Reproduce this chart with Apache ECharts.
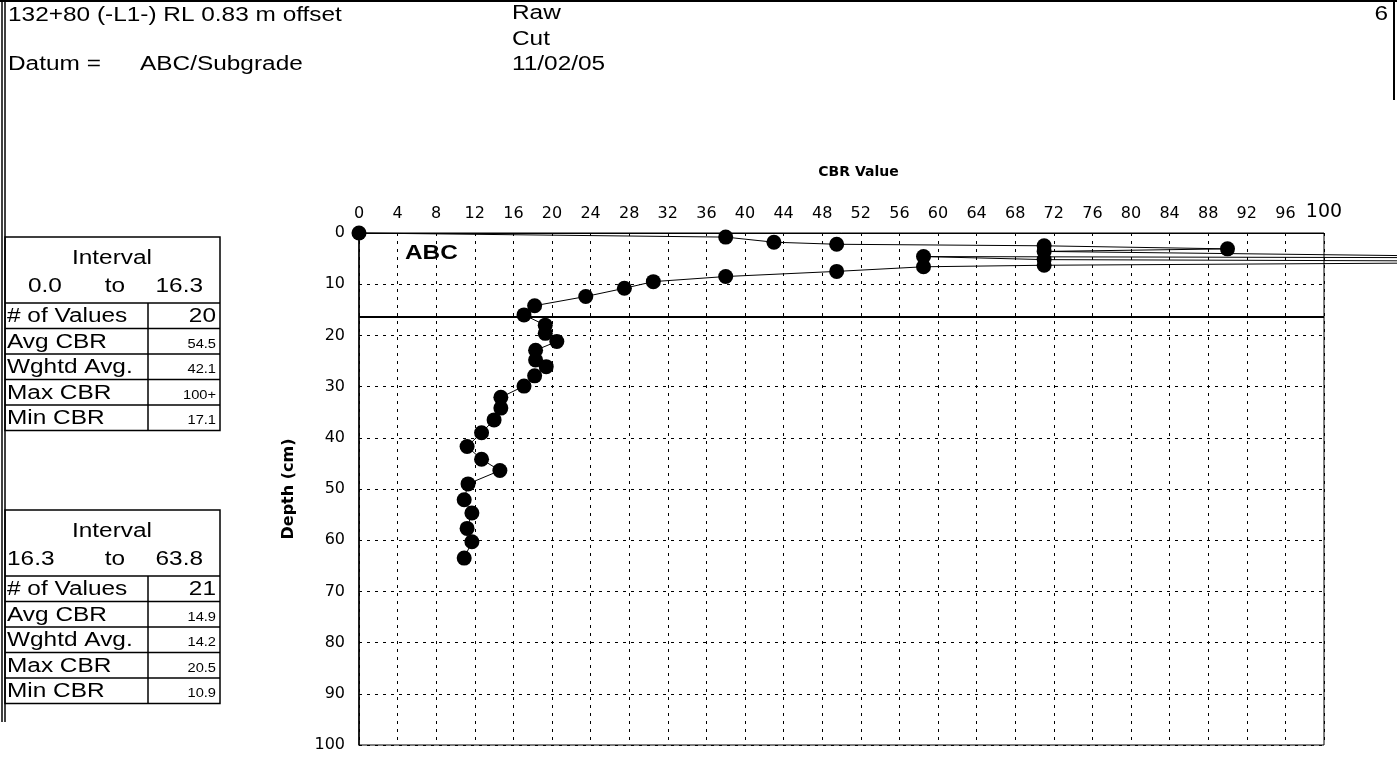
<!DOCTYPE html>
<html>
<head>
<meta charset="utf-8">
<script src="https://cdn.jsdelivr.net/npm/echarts@6/dist/echarts.min.js"></script>
<style>
  html, body { margin: 0; padding: 0; background: #fff; }
  #chart { width: 1397px; height: 767px; }
</style>
</head>
<body>
<div id="chart"></div>
<script>
// CBR readings in test order (depth cm, CBR). Two readings were over 100 and run off the chart.
const depths = [0, 0.8, 1.8, 2.2, 2.5, 3.1, 3.6, 4.9, 4.6, 5.2, 5.6, 6.3, 6.6, 7.5, 8.5, 9.5, 10.8, 12.4, 14.2, 16.0,
  18.0, 19.6, 21.2, 22.9, 24.8, 26.1, 27.9, 29.9, 32.1, 34.2, 36.5, 39.0, 41.7, 44.2, 46.4, 49.0, 52.1, 54.7, 57.7, 60.3, 63.5]
const cbr = [0, 38, 43, 49.5, 71, 90, 71, 130, 58.5, 71, 134, 71, 58.5, 49.5, 38, 30.5, 27.5, 23.5, 18.2, 17.1,
  19.3, 19.3, 20.5, 18.3, 18.3, 19.4, 18.2, 17.1, 14.7, 14.7, 14.0, 12.7, 11.2, 12.7, 14.6, 11.3, 10.9, 11.7, 11.2, 11.7, 10.9]
const layerBreaks = [16.3]
const layerName = "ABC"

const xTicks = { min: 0, max: 100, interval: 4 }
const yTicks = { min: 0, max: 100, interval: 10 }

// summary tables on the left
const statLabels = ["# of Values", "Avg CBR", "Wghtd Avg.", "Max CBR", "Min CBR"]
const intervalRanges = [["0.0", "16.3"], ["16.3", "63.8"]]
const intervalStats = [
  ["20", "54.5", "42.1", "100+", "17.1"],
  ["21", "14.9", "14.2", "20.5", "10.9"]
]

const headLines = {
  station: "132+80 (-L1-) RL 0.83 m offset",
  datumLabel: "Datum =",
  datum: "ABC/Subgrade",
  kind: ["Raw", "Cut", "11/02/05"],
  page: "6"
}

const FONT = "'Liberation Sans', Arial, sans-serif"
const AXFONT = "'DejaVu Sans', sans-serif"
const SX = 1.22 // the scan is stretched sideways

// plot area, px
const W = 1397, plotL = 359, plotR = 73, plotT = 233, plotB = 22

function txt(text, x, y, size, opt) {
  opt = opt || {}
  return {
    type: "text", silent: true, x: x, y: y, scaleX: opt.sx || SX,
    style: {
      text: text, x: 0, y: 0,
      font: (opt.bold ? "bold " : "") + size + "px " + FONT,
      fill: "#000",
      align: opt.align || "left",
      verticalAlign: "middle"
    }
  }
}
function ln(x1, y1, x2, y2, w) {
  return { type: "line", silent: true, shape: { x1: x1, y1: y1, x2: x2, y2: y2 }, style: { stroke: "#000", lineWidth: w || 1 } }
}

function makeTable(top, range, stats, leftStart) {
  const L = 5, R = 220, mid = 148, headH = 66, rowH = 25.5
  const out = []
  const bottom = top + headH + rowH * statLabels.length
  out.push({ type: "rect", silent: true, shape: { x: L, y: top, width: R - L, height: bottom - top }, style: { fill: "none", stroke: "#000", lineWidth: 1.5 } })
  out.push(txt("Interval", 112, top + 21, 20, { align: "center" }))
  out.push(txt(range[0], leftStart, top + 49, 20))
  out.push(txt("to", 115, top + 49, 20, { align: "center" }))
  out.push(txt(range[1], 203, top + 49, 20, { align: "right" }))
  out.push(ln(mid, top + headH, mid, bottom, 1.5))
  statLabels.forEach(function (lab, i) {
    const y0 = top + headH + rowH * i
    out.push(ln(L, y0, R, y0, 1.5))
    out.push(txt(lab, 7, y0 + rowH / 2 + 1, 20))
    out.push(txt(stats[i], 216, y0 + rowH / 2 + (i === 0 ? 1 : 3), i === 0 ? 20 : 12, { align: "right" }))
  })
  return out
}

const chart = echarts.init(document.getElementById("chart"))

const graphics = [
  // page frame
  ln(2, 0, 2, 722, 1.5), ln(5, 0, 5, 722, 1.5), ln(0, 1, 1397, 1, 2),
  ln(1394, 0, 1394, 100, 2),
  txt(headLines.station, 8, 15, 20),
  txt(headLines.datumLabel, 8, 64, 20),
  txt(headLines.datum, 140, 64, 20),
  txt(headLines.kind[0], 512, 13, 20),
  txt(headLines.kind[1], 512, 39, 20),
  txt(headLines.kind[2], 512, 64, 20),
  txt(headLines.page, 1388, 14, 20, { align: "right" }),
  txt(layerName, 405, 253, 20, { bold: true })
].concat(makeTable(237, intervalRanges[0], intervalStats[0], 28))
 .concat(makeTable(510, intervalRanges[1], intervalStats[1], 7))

// the readings over 100 run past the frame to the page edge, so the line sits
// on a hidden twin axis with the same scale that reaches the page edge
const plotW = W - plotL - plotR
const wideMax = xTicks.max * (W - plotL) / plotW

chart.setOption({
  animation: false,
  backgroundColor: "#fff",
  textStyle: { fontFamily: AXFONT },
  grid: [
    { left: plotL, right: plotR, top: plotT, bottom: plotB, show: true, borderColor: "#000", borderWidth: 1, backgroundColor: "transparent" },
    { left: plotL, right: 0, top: plotT, bottom: plotB }
  ],
  xAxis: [{
    type: "value", position: "top", gridIndex: 0,
    min: xTicks.min, max: xTicks.max, interval: xTicks.interval,
    name: "CBR Value", nameLocation: "middle", nameGap: 54,
    nameTextStyle: { fontSize: 14, fontWeight: "bold", color: "#000", fontFamily: AXFONT, padding: [0, 0, 0, 34] },
    axisLine: { show: true, lineStyle: { color: "#000" } },
    axisTick: { show: false },
    axisLabel: {
      margin: 11, fontSize: 16, color: "#000", fontFamily: AXFONT,
      formatter: function (v) { return v === 100 ? "{big|100}" : String(v) },
      rich: { big: { fontSize: 19, color: "#000", fontFamily: AXFONT } }
    },
    splitLine: { show: true, lineStyle: { color: "#000", type: [3, 5], width: 1 } }
  }, {
    type: "value", gridIndex: 1, show: false, min: xTicks.min, max: wideMax
  }],
  yAxis: [{
    type: "value", inverse: true, gridIndex: 0,
    min: yTicks.min, max: yTicks.max, interval: yTicks.interval,
    name: "Depth (cm)", nameLocation: "middle", nameGap: 62, nameRotate: 90,
    nameTextStyle: { fontSize: 16, fontWeight: "bold", color: "#000", fontFamily: AXFONT },
    axisLine: { show: true, lineStyle: { color: "#000", width: 1.5 } },
    axisTick: { show: false },
    axisLabel: { margin: 14, fontSize: 16, color: "#000", fontFamily: AXFONT },
    splitLine: { show: true, lineStyle: { color: "#000", type: [3, 5], width: 1 } }
  }, {
    type: "value", inverse: true, gridIndex: 1, show: false, min: yTicks.min, max: yTicks.max
  }],
  graphic: graphics,
  series: [{
    type: "line", xAxisIndex: 1, yAxisIndex: 1,
    data: depths.map(function (d, i) { return [cbr[i], d] }),
    clip: false,
    symbol: "circle", symbolSize: 15,
    itemStyle: { color: "#000" },
    lineStyle: { color: "#000", width: 1 }
  }, {
    type: "line", xAxisIndex: 0, yAxisIndex: 0, data: [],
    markLine: {
      silent: true, symbol: "none", label: { show: false },
      lineStyle: { color: "#000", width: 2, type: "solid" },
      data: layerBreaks.map(function (b) { return { yAxis: b } })
    }
  }]
})
</script>
</body>
</html>
